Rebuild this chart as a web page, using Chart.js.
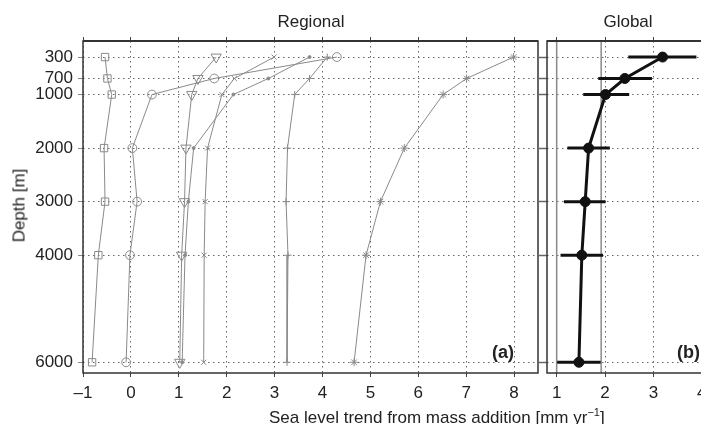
<!DOCTYPE html>
<html>
<head>
<meta charset="utf-8">
<script src="https://cdn.jsdelivr.net/npm/chart.js@4/dist/chart.umd.min.js"></script>
<style>
  html, body { margin: 0; padding: 0; background: #fff; overflow: hidden; }
  body { width: 701px; height: 424px; position: relative; font-family: "Liberation Sans", Arial, sans-serif; color: #222; }
  .cv { position: absolute; top: 0; }
  .txt { position: absolute; font-size: 17px; line-height: 1; white-space: nowrap; }
  .tag { position: absolute; font-size: 18px; font-weight: bold; line-height: 1; }
</style>
</head>
<body>
<div class="cv" style="left:0;width:545px;height:424px"><canvas id="regional"></canvas></div>
<div class="cv" style="left:539px;width:180px;height:424px"><canvas id="global"></canvas></div>

<div class="txt" style="left:261px;width:100px;text-align:center;top:13px">Regional</div>
<div class="txt" style="left:578px;width:100px;text-align:center;top:13px">Global</div>
<div class="txt" style="left:269px;top:407px">Sea level trend from mass addition [mm yr<sup style="font-size:11px;vertical-align:7px">&minus;1</sup>]</div>
<div class="txt" style="left:-31px;width:100px;text-align:center;top:197px;transform:rotate(-90deg)">Depth [m]</div>
<div class="tag" style="left:492px;top:343px">(a)</div>
<div class="tag" style="left:677px;top:343px">(b)</div>

<script>
const depths = [300, 700, 1000, 2000, 3000, 4000, 6000];
const regionalTicks = [-1, 0, 1, 2, 3, 4, 5, 6, 7, 8];
const globalTicks = [1, 2, 3, 4];

// regional profiles, one per marker
const squares   = [-0.54, -0.49, -0.40, -0.56, -0.54, -0.68, -0.81];
const circles   = [4.30, 1.74, 0.44, 0.03, 0.13, -0.02, -0.10];
const triangles = [1.78, 1.40, 1.27, 1.15, 1.12, 1.06, 1.02];
const crosses   = [2.99, 2.16, 1.90, 1.60, 1.55, 1.53, 1.52];
const dots      = [3.73, 2.87, 2.14, 1.31, 1.20, 1.13, 1.07];
const pluses    = [4.10, 3.73, 3.42, 3.27, 3.24, 3.28, 3.26];
const asterisks = [7.99, 7.01, 6.52, 5.71, 5.21, 4.91, 4.66];

// global mean with error range
const globalMean = [3.19, 2.41, 2.01, 1.66, 1.59, 1.52, 1.46];
const globalLow  = [2.48, 1.86, 1.55, 1.22, 1.15, 1.08, 1.01];
const globalHigh = [3.89, 2.97, 2.50, 2.10, 2.01, 1.96, 1.91];
const globalRefLines = [1.0, 1.92];

Chart.defaults.font.family = '"Liberation Sans", Arial, sans-serif';
Chart.defaults.font.size = 17;
Chart.defaults.color = '#222';
Chart.defaults.animation = false;

const pts = vals => vals.map((v, i) => ({ x: v, y: depths[i] }));
const GRAY = '#8a8a8a';
const dottedGrid = { color: '#666', lineWidth: 1, tickColor: '#444', tickBorderDash: [], tickWidth: 1 };
const dottedBorder = { display: false, dash: [1.5, 3.5] };

const frame = {
    id: 'frame',
    afterDraw(chart)
    {
        const { ctx, chartArea: a } = chart;
        ctx.save();
        ctx.strokeStyle = '#333';
        ctx.lineWidth = 1.5;
        ctx.strokeRect(a.left, a.top, a.right - a.left, a.bottom - a.top);
        ctx.lineWidth = 2;
        ctx.beginPath();
        ctx.moveTo(a.left, a.top);
        ctx.lineTo(a.right, a.top);
        ctx.stroke();
        ctx.restore();
    }
};

function regionalSet(vals, style, radius, rot)
{
    return {
        data: pts(vals),
        showLine: true,
        borderColor: GRAY,
        borderWidth: 1,
        pointStyle: style,
        pointRadius: radius,
        pointRotation: rot || 0,
        pointBorderColor: GRAY,
        pointBackgroundColor: style === 'circle' && radius < 2 ? GRAY : 'transparent',
        pointBorderWidth: 1
    };
}

function yScale(opts)
{
    return Object.assign({
        min: 0,
        max: 6200,
        reverse: true,
        afterBuildTicks: s => { s.ticks = depths.map(v => ({ value: v })); },
        border: dottedBorder
    }, opts);
}

new Chart(document.getElementById('regional'), {
    type: 'scatter',
    data: {
        datasets: [
            regionalSet(squares, 'rect', 5.2),
            regionalSet(circles, 'circle', 4.4),
            regionalSet(triangles, 'triangle', 6, 180),
            regionalSet(crosses, 'crossRot', 3.6),
            regionalSet(dots, 'circle', 1.5),
            regionalSet(pluses, 'cross', 3.6),
            regionalSet(asterisks, 'star', 4)
        ]
    },
    options: {
        responsive: true,
        maintainAspectRatio: false,
        layout: { padding: { top: 0, bottom: 0, left: 0, right: 6 } },
        plugins: { legend: { display: false }, tooltip: { enabled: false } },
        scales: {
            x: {
                type: 'linear', min: -1, max: 8.5,
                afterBuildTicks: s => { s.ticks = regionalTicks.map(v => ({ value: v })); },
                afterFit: s => { s.height = 51; },
                border: dottedBorder,
                grid: Object.assign({}, dottedGrid, { tickLength: 4 }),
                ticks: { padding: 6, maxRotation: 0, callback: v => v < 0 ? '\u2013' + Math.abs(v) : String(v) }
            },
            x2: {
                type: 'linear', position: 'top', min: -1, max: 8.5,
                afterBuildTicks: s => { s.ticks = regionalTicks.map(v => ({ value: v })); },
                afterFit: s => { s.height = 41; },
                border: { display: false },
                grid: { drawOnChartArea: false, tickLength: 4, tickColor: '#444' },
                ticks: { display: false }
            },
            y: yScale({
                afterFit: s => { s.width = 83; },
                grid: Object.assign({}, dottedGrid, { tickLength: 5, tickColor: '#888' }),
                ticks: { padding: 5, callback: v => String(v) }
            })
        }
    },
    plugins: [frame]
});

const errorBars = {
    id: 'errorBars',
    beforeDatasetsDraw(chart)
    {
        const { ctx, chartArea: a, scales: { x, y } } = chart;
        ctx.save();
        ctx.strokeStyle = '#8a8a8a';
        ctx.lineWidth = 1.5;
        globalRefLines.forEach(v =>
        {
            const px = x.getPixelForValue(v);
            ctx.beginPath();
            ctx.moveTo(px, a.top);
            ctx.lineTo(px, a.bottom);
            ctx.stroke();
        });
        ctx.strokeStyle = '#111';
        ctx.lineWidth = 3;
        depths.forEach((d, i) =>
        {
            const py = y.getPixelForValue(d);
            ctx.beginPath();
            ctx.moveTo(x.getPixelForValue(globalLow[i]), py);
            ctx.lineTo(x.getPixelForValue(globalHigh[i]), py);
            ctx.stroke();
        });
        ctx.restore();
    }
};

new Chart(document.getElementById('global'), {
    type: 'scatter',
    data: {
        datasets: [{
            data: pts(globalMean),
            showLine: true,
            borderColor: '#111',
            borderWidth: 3,
            pointStyle: 'circle',
            pointRadius: 5,
            pointBackgroundColor: '#111',
            pointBorderColor: '#111',
            pointBorderWidth: 1
        }]
    },
    options: {
        responsive: true,
        maintainAspectRatio: false,
        layout: { padding: { top: 0, bottom: 0, left: 0, right: 10 } },
        plugins: { legend: { display: false }, tooltip: { enabled: false } },
        scales: {
            x: {
                type: 'linear', min: 0.8, max: 4.15,
                afterBuildTicks: s => { s.ticks = globalTicks.map(v => ({ value: v })); },
                afterFit: s => { s.height = 51; },
                border: dottedBorder,
                grid: Object.assign({}, dottedGrid, { tickLength: 4 }),
                ticks: { padding: 6, maxRotation: 0 }
            },
            x2: {
                type: 'linear', position: 'top', min: 0.8, max: 4.15,
                afterBuildTicks: s => { s.ticks = globalTicks.map(v => ({ value: v })); },
                afterFit: s => { s.height = 41; },
                border: { display: false },
                grid: { drawOnChartArea: false, tickLength: 4, tickColor: '#444' },
                ticks: { display: false }
            },
            y: yScale({
                afterFit: s => { s.width = 8; },
                grid: Object.assign({}, dottedGrid, { tickLength: 8, tickColor: '#666', tickWidth: 1.5 }),
                ticks: { display: false }
            })
        }
    },
    plugins: [errorBars, frame]
});
</script>
</body>
</html>
